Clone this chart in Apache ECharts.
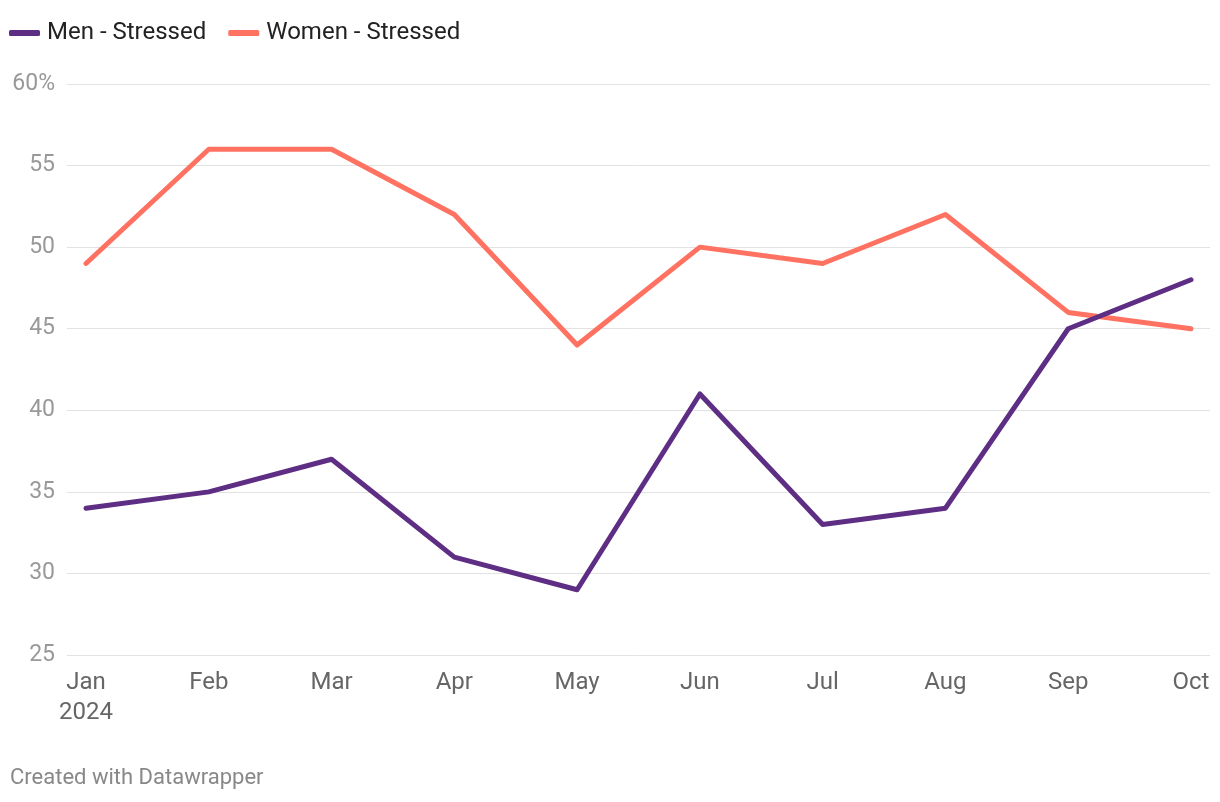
<!DOCTYPE html>
<html>
<head>
<meta charset="utf-8">
<script src="https://cdn.jsdelivr.net/npm/echarts@6/dist/echarts.min.js"></script>
<style>
html,body{margin:0;padding:0;background:#fff;}
#chart{width:1220px;height:802px;}
</style>
</head>
<body>
<div id="chart"></div>
<script>
const months = ['Jan','Feb','Mar','Apr','May','Jun','Jul','Aug','Sep','Oct'];
const menStressed = [34,35,37,31,29,41,33,34,45,48];
const womenStressed = [49,56,56,52,44,50,49,52,46,45];
const yMin = 25, yMax = 60, yStep = 5;

const chart = echarts.init(document.getElementById('chart'));
const font = 'Roboto, "Noto Sans", sans-serif';
chart.setOption({
  backgroundColor: '#ffffff',
  animation: false,
  textStyle: {fontFamily: font},
  legend: {
    left: 4, top: 16,
    itemWidth: 31, itemHeight: 6, itemGap: 22,
    icon: 'roundRect',
    textStyle: {fontFamily: font, fontSize: 24, color: '#222222', padding: [0,0,0,2]},
    data: ['Men - Stressed','Women - Stressed']
  },
  grid: [
    {left: 67, right: 10, top: 84, bottom: 147},
    {left: 86, right: 29, top: 84, bottom: 147}
  ],
  xAxis: [
    {gridIndex: 0, type: 'value', min: 0, max: 1, show: false},
    {gridIndex: 1, type: 'category', data: months, boundaryGap: false,
     axisLine: {show: false}, axisTick: {show: false}, splitLine: {show: false},
     axisLabel: {
       margin: 13, fontFamily: font, fontSize: 24, color: '#666666', lineHeight: 30,
       interval: 0,
       formatter: (v, i) => i === 0 ? v + '\n2024' : v
     }}
  ],
  yAxis: [
    {gridIndex: 0, type: 'value', min: yMin, max: yMax, interval: yStep,
     axisLine: {show: false}, axisTick: {show: false},
     splitLine: {lineStyle: {color: '#e2e2e2', width: 1}},
     axisLabel: {margin: 12, fontFamily: font, fontSize: 23, color: '#999999',
       formatter: v => v === yMax ? v + '%' : String(v)}},
    {gridIndex: 1, type: 'value', min: yMin, max: yMax, interval: yStep, show: false}
  ],
  series: [
    {name: 'Men - Stressed', type: 'line', xAxisIndex: 1, yAxisIndex: 1, data: menStressed,
     symbol: 'none', color: '#5e2d84',
     lineStyle: {width: 5, color: '#5e2d84', cap: 'round', join: 'round'}},
    {name: 'Women - Stressed', type: 'line', xAxisIndex: 1, yAxisIndex: 1, data: womenStressed,
     symbol: 'none', color: '#ff7262', z: 1,
     lineStyle: {width: 5, color: '#ff7262', cap: 'round', join: 'round'}}
  ],
  graphic: [
    {type: 'text', left: 10, top: 767,
     style: {text: 'Created with Datawrapper', font: '22px ' + font, fill: '#888888'}}
  ]
});
</script>
</body>
</html>
